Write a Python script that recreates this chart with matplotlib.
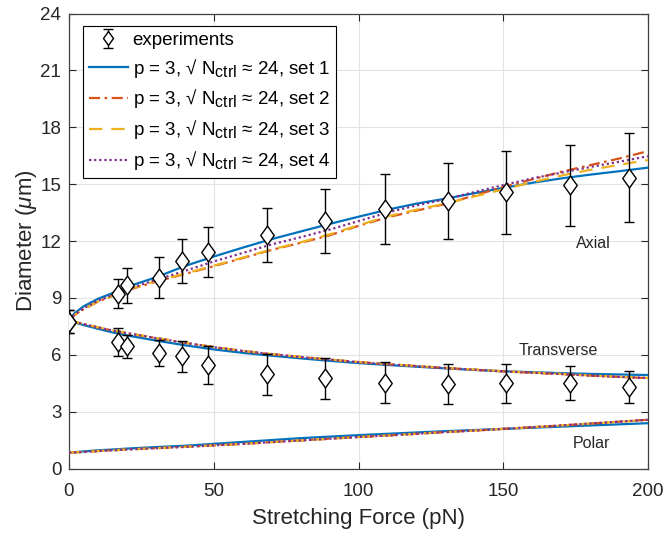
import numpy as np
import matplotlib
matplotlib.use("Agg")
import matplotlib.pyplot as plt
from matplotlib.path import Path
import matplotlib._mathtext as _mt

_mt.SHRINK_FACTOR = 0.85

plt.rcParams['font.family'] = ['Liberation Sans', 'DejaVu Sans']
plt.rcParams['mathtext.fontset'] = 'custom'
plt.rcParams['mathtext.rm'] = 'Liberation Sans'
plt.rcParams['mathtext.it'] = 'Liberation Sans:italic'

# ---------------- data ----------------
force = [0, 2, 5, 10, 15, 20, 30, 40, 50, 60, 70, 80, 90, 100, 110, 120,
         130, 140, 150, 160, 170, 180, 190, 200]

axial_set1 = [7.85, 8.2, 8.55, 8.95, 9.25, 9.58, 10.08, 10.68, 11.18, 11.65, 12.1, 12.5,
              12.9, 13.28, 13.65, 13.97, 14.23, 14.52, 14.8, 15.07, 15.3, 15.5, 15.68, 15.87]
axial_set2 = [7.85, 8.1, 8.4, 8.8, 9.1, 9.4, 9.85, 10.26, 10.67, 11.1, 11.53, 11.9,
              12.3, 12.8, 13.25, 13.6, 13.95, 14.4, 14.85, 15.25, 15.65, 16.0, 16.35, 16.74]
axial_set3 = [7.85, 8.1, 8.4, 8.8, 9.1, 9.42, 9.88, 10.28, 10.7, 11.12, 11.55, 11.93,
              12.35, 12.83, 13.3, 13.65, 13.97, 14.35, 14.72, 15.1, 15.45, 15.75, 16.02, 16.27]
axial_set4 = [7.85, 8.12, 8.45, 8.85, 9.15, 9.45, 9.95, 10.42, 10.92, 11.37, 11.82, 12.2,
              12.6, 13.05, 13.5, 13.88, 14.2, 14.58, 14.95, 15.3, 15.6, 15.9, 16.18, 16.47]

trans_set1 = [7.8, 7.7, 7.57, 7.37, 7.18, 7.02, 6.75, 6.5, 6.28, 6.1, 5.95, 5.81,
              5.68, 5.56, 5.46, 5.37, 5.28, 5.2, 5.13, 5.08, 5.03, 4.99, 4.96, 4.93]
trans_set2 = [7.8, 7.73, 7.62, 7.44, 7.28, 7.14, 6.88, 6.63, 6.4, 6.2, 6.03, 5.88,
              5.74, 5.61, 5.5, 5.4, 5.3, 5.21, 5.12, 5.05, 4.98, 4.9, 4.83, 4.77]
trans_set3 = [7.8, 7.73, 7.63, 7.45, 7.29, 7.15, 6.89, 6.64, 6.41, 6.21, 6.04, 5.89,
              5.75, 5.62, 5.51, 5.41, 5.31, 5.22, 5.13, 5.06, 4.99, 4.91, 4.84, 4.78]
trans_set4 = [7.8, 7.73, 7.62, 7.44, 7.28, 7.14, 6.88, 6.63, 6.4, 6.2, 6.03, 5.88,
              5.74, 5.61, 5.5, 5.4, 5.3, 5.21, 5.12, 5.05, 4.98, 4.9, 4.83, 4.77]

polar_set1 = [0.83, 0.86, 0.9, 0.96, 1.0, 1.05, 1.13, 1.2, 1.3, 1.4, 1.5, 1.6,
              1.68, 1.76, 1.83, 1.9, 1.97, 2.03, 2.09, 2.15, 2.21, 2.27, 2.33, 2.39]
polar_set2 = [0.83, 0.85, 0.87, 0.92, 0.96, 1.0, 1.07, 1.14, 1.22, 1.3, 1.39, 1.48,
              1.57, 1.66, 1.74, 1.83, 1.92, 2.0, 2.09, 2.18, 2.27, 2.37, 2.47, 2.57]
polar_set3 = [0.83, 0.85, 0.87, 0.92, 0.96, 1.0, 1.07, 1.14, 1.22, 1.3, 1.39, 1.48,
              1.57, 1.66, 1.74, 1.83, 1.92, 2.0, 2.09, 2.18, 2.27, 2.37, 2.46, 2.56]
polar_set4 = [0.83, 0.85, 0.87, 0.92, 0.96, 1.0, 1.07, 1.14, 1.22, 1.3, 1.39, 1.48,
              1.57, 1.66, 1.74, 1.83, 1.92, 2.0, 2.09, 2.18, 2.27, 2.37, 2.47, 2.57]

exp_force = [0, 17, 20, 31, 39, 48, 68.5, 88.5, 109, 131, 151, 173, 193.5]
exp_axial = [7.75, 9.21, 9.67, 10.06, 10.93, 11.41, 12.31, 13.05, 13.7, 14.13, 14.57, 14.93, 15.33]
exp_axial_err = [0.6, 0.76, 0.92, 1.09, 1.15, 1.32, 1.44, 1.67, 1.85, 2.0, 2.2, 2.15, 2.35]
exp_trans = [7.75, 6.67, 6.44, 6.1, 5.92, 5.45, 4.96, 4.75, 4.52, 4.47, 4.5, 4.5, 4.29]
exp_trans_err = [0.6, 0.74, 0.62, 0.7, 0.83, 1.0, 1.1, 1.08, 1.09, 1.05, 1.02, 0.9, 0.84]

set_labels = [r'p = 3, √ N$_{\mathrm{ctrl}}$ ≈ 24, set 1',
              r'p = 3, √ N$_{\mathrm{ctrl}}$ ≈ 24, set 2',
              r'p = 3, √ N$_{\mathrm{ctrl}}$ ≈ 24, set 3',
              r'p = 3, √ N$_{\mathrm{ctrl}}$ ≈ 24, set 4']
set_colors = ['#0072BD', '#D95319', '#EDB120', '#7E2F8E']
set_styles = ['-', (0, (5, 2, 1.2, 2)), (0, (6, 4)), (0, (1, 1.3))]

# ---------------- figure ----------------
fig = plt.figure(figsize=(6.68, 5.38), dpi=100)
ax = fig.add_axes([69 / 668, 1 - 468.5 / 538, 579 / 668, 455 / 538])

axc = '#262626'
diamond = Path([(0, 1), (0.72, 0), (0, -1), (-0.72, 0), (0, 1)],
               [Path.MOVETO, Path.LINETO, Path.LINETO, Path.LINETO, Path.CLOSEPOLY])

ax.errorbar(exp_force, exp_axial, yerr=exp_axial_err, fmt='none', ecolor='black',
            elinewidth=1.0, capsize=3.3, capthick=1.0, zorder=5)
ax.errorbar(exp_force, exp_trans, yerr=exp_trans_err, fmt='none', ecolor='black',
            elinewidth=1.0, capsize=3.3, capthick=1.0, zorder=5)
ax.plot(exp_force, exp_axial, linestyle='none', marker=diamond, markersize=13.5,
        markerfacecolor='white', markeredgecolor='black', markeredgewidth=1.0, zorder=6)
ax.plot(exp_force, exp_trans, linestyle='none', marker=diamond, markersize=13.5,
        markerfacecolor='white', markeredgecolor='black', markeredgewidth=1.0, zorder=6)

# legend proxy for experiments
exp_handle = ax.errorbar([np.nan], [np.nan], yerr=[1], fmt='none', ecolor='black',
                         elinewidth=1.0, capsize=3.3, capthick=1.0)
exp_marker, = ax.plot([np.nan], [np.nan], linestyle='none', marker=diamond, markersize=10,
                      markerfacecolor='white', markeredgecolor='black', markeredgewidth=1.0)

axial = [axial_set1, axial_set2, axial_set3, axial_set4]
trans = [trans_set1, trans_set2, trans_set3, trans_set4]
polar = [polar_set1, polar_set2, polar_set3, polar_set4]
handles = []
for i in range(4):
    h, = ax.plot(force, axial[i], color=set_colors[i], linestyle=set_styles[i], lw=1.6, zorder=3)
    ax.plot(force, trans[i], color=set_colors[i], linestyle=set_styles[i], lw=1.6, zorder=3)
    ax.plot(force, polar[i], color=set_colors[i], linestyle=set_styles[i], lw=1.6, zorder=3)
    handles.append(h)

ax.text(181, 11.88, 'Axial', fontsize=11.5, ha='center', va='center', color='#262626')
ax.text(169, 6.2, 'Transverse', fontsize=11.5, ha='center', va='center', color='#262626')
ax.text(180.5, 1.3, 'Polar', fontsize=11.5, ha='center', va='center', color='#262626')

ax.set_xlim(0, 200)
ax.set_ylim(0, 24)
ax.set_xticks([0, 50, 100, 150, 200])
ax.set_yticks(np.arange(0, 25, 3))
ax.grid(True, color='#e3e3e3', linewidth=0.8)
ax.set_axisbelow(True)
ax.tick_params(direction='in', length=5, width=0.8, top=True, right=True,
               labelsize=13.5, colors=axc, labelcolor='#262626')
ax.tick_params(axis='x', pad=10.5)
ax.tick_params(axis='y', pad=5.5)
for s in ax.spines.values():
    s.set_color('#404040')
    s.set_linewidth(0.9)

ax.set_xlabel('Stretching Force (pN)', fontsize=16, color='#262626', labelpad=6)
ax.set_ylabel(r'Diameter ($\mu$m)', fontsize=16, color='#262626', labelpad=1)

leg = ax.legend([(exp_handle, exp_marker)] + handles, ['experiments'] + set_labels,
                loc='upper left', bbox_to_anchor=(14 / 579, 1 - 12.5 / 455), borderaxespad=0,
                fontsize=13.5, handlelength=2.1, handletextpad=0.25, labelspacing=0.42,
                borderpad=0.3, fancybox=False, framealpha=1, edgecolor='black')
leg.get_frame().set_linewidth(0.8)

fig.savefig('out.png', dpi=100)
